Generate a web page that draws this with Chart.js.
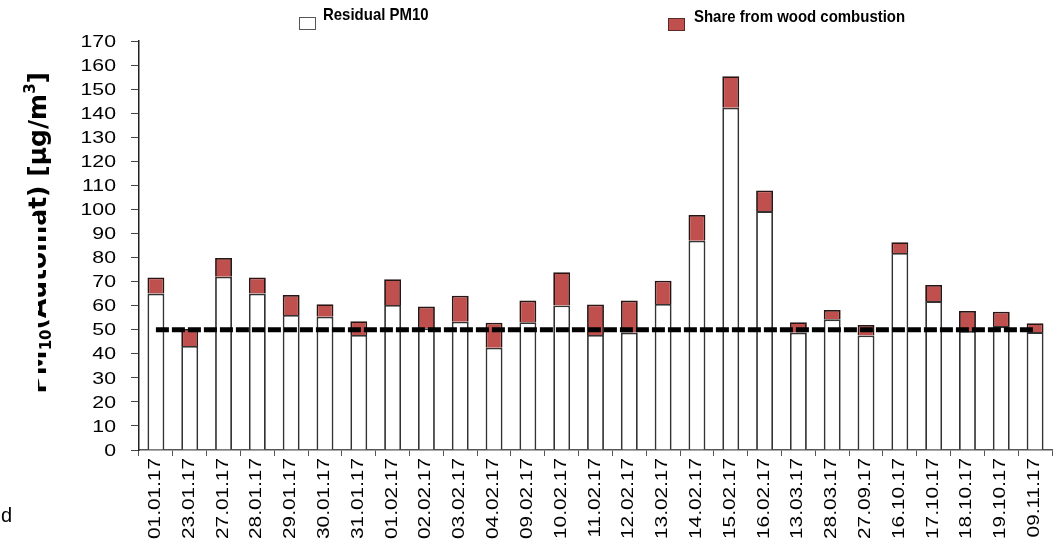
<!DOCTYPE html>
<html>
<head>
<meta charset="utf-8">
<script src="https://cdn.jsdelivr.net/npm/chart.js@4"></script>
<style>
  html, body { margin: 0; padding: 0; background: #fff; }
</style>
</head>
<body>
<canvas id="pmChart" width="1056" height="546"></canvas>
<script>
const dates = ["01.01.17", "23.01.17", "27.01.17", "28.01.17", "29.01.17", "30.01.17", "31.01.17",
    "01.02.17", "02.02.17", "03.02.17", "04.02.17", "09.02.17", "10.02.17", "11.02.17", "12.02.17",
    "13.02.17", "14.02.17", "15.02.17", "16.02.17", "13.03.17", "28.03.17", "27.09.17", "16.10.17",
    "17.10.17", "18.10.17", "19.10.17", "09.11.17"];

const residualPM10 = [65, 43.2, 72, 65, 56.1, 55.4, 47.8, 60.3, 50.6, 53.3, 42.5, 53.1, 60.1, 47.8, 48.8,
    60.7, 87, 142.3, 99.3, 48.8, 54.3, 47.6, 81.9, 61.9, 49.5, 51.5, 49];

const woodShare = [6.7, 7.1, 7.8, 6.7, 8.3, 5.2, 5.7, 10.7, 9, 10.8, 10.4, 9, 13.8, 12.7, 13.3,
    9.7, 10.7, 13.1, 8.6, 4.3, 3.9, 4.4, 4.5, 6.7, 8.3, 6, 3.7];

const limitValue = [50, 50, 50, 50, 50, 50, 50, 50, 50, 50, 50, 50, 50, 50, 50,
    50, 50, 50, 50, 50, 50, 50, 50, 50, 50, 50, 50];

const yMax = 170;
const yStep = 10;

const legendItems = ["Residual PM10", "Share from wood combustion"];
const yTitle = ["PM", "10", "(Automat) [µg/m", "3", "]"];

const sansFont = '"Liberation Sans", Arial, sans-serif';

// all the text is drawn here, the chart's own labels are hidden
const textPlugin = {
    id: "textPlugin",
    afterDraw(chart) {
        const { ctx, scales: { x, y } } = chart;
        ctx.save();
        ctx.fillStyle = "#000";

        // y tick labels
        ctx.font = `17px ${sansFont}`;
        ctx.textAlign = "right";
        ctx.textBaseline = "middle";
        y.ticks.forEach((t) => {
            ctx.save();
            ctx.translate(116, y.getPixelForValue(t.value) + 1);
            ctx.scale(1.25, 1);
            ctx.fillText(String(t.value), 0, 0);
            ctx.restore();
        });

        // x labels, rotated and stretched
        ctx.font = `16px ${sansFont}`;
        ctx.textBaseline = "alphabetic";
        dates.forEach((d, i) => {
            ctx.save();
            ctx.translate(x.getPixelForValue(i) + 4, 458);
            ctx.rotate(-Math.PI / 2);
            ctx.scale(1.3, 1);
            ctx.fillText(d, 0, 0);
            ctx.restore();
        });

        // y axis title (partly hidden like in the original)
        ctx.save();
        ctx.beginPath();
        ctx.rect(0, 0, 1056, 216);
        ctx.rect(38, 216, 1018, 330);
        ctx.clip();
        const widths = yTitle.map((part, i) => {
            const small = i === 1 || i === 3;
            ctx.font = `bold ${small ? 15 : 25}px "DejaVu Sans", sans-serif`;
            return ctx.measureText(part).width;
        });
        const total = widths.reduce((a, b) => a + b, 0);
        ctx.translate(46, 72 + total);
        ctx.rotate(-Math.PI / 2);
        ctx.textAlign = "left";
        let pos = 0;
        yTitle.forEach((part, i) => {
            const small = i === 1 || i === 3;
            ctx.font = `bold ${small ? 15 : 25}px "DejaVu Sans", sans-serif`;
            const shift = i === 1 ? 5 : (i === 3 ? -11 : 0);
            ctx.fillText(part, pos, shift);
            pos += widths[i];
        });
        ctx.restore();

        // legend
        ctx.lineWidth = 1;
        ctx.fillStyle = "#fff";
        ctx.strokeStyle = "#555";
        ctx.fillRect(299.5, 17.5, 16, 12);
        ctx.strokeRect(299.5, 17.5, 16, 12);
        ctx.fillStyle = "#c0504d";
        ctx.strokeStyle = "#5a2a2a";
        ctx.fillRect(668.5, 18.5, 16, 12);
        ctx.strokeRect(668.5, 18.5, 16, 12);

        ctx.fillStyle = "#000";
        ctx.font = `bold 17px ${sansFont}`;
        ctx.textAlign = "left";
        [[323, 19.5], [694, 22]].forEach(([lx, ly], i) => {
            ctx.save();
            ctx.translate(lx, ly);
            ctx.scale(0.88, 1);
            ctx.fillText(legendItems[i], 0, 0);
            ctx.restore();
        });

        // leftover text at the bottom left edge
        ctx.font = `20px ${sansFont}`;
        ctx.textAlign = "right";
        ctx.fillText("nd", 12, 522);

        ctx.restore();
    }
};

new Chart("pmChart", {
    type: "bar",
    data: {
        labels: dates,
        datasets: [
            {
                type: "line",
                label: "limit",
                data: limitValue,
                borderColor: "#000",
                borderWidth: 5,
                borderDash: [13, 3],
                pointRadius: 0,
                fill: false,
                stack: "limit",
                order: 0
            },
            {
                label: legendItems[0],
                data: residualPM10,
                backgroundColor: "#fff",
                borderColor: "#333",
                borderWidth: 1.8,
                stack: "pm",
                order: 1
            },
            {
                label: legendItems[1],
                data: woodShare,
                backgroundColor: "#c0504d",
                borderColor: "#2a1515",
                borderWidth: 1.8,
                stack: "pm",
                order: 1
            }
        ]
    },
    options: {
        responsive: false,
        animation: false,
        devicePixelRatio: 1,
        layout: { padding: { top: 41, right: 4, left: 0, bottom: 0 } },
        datasets: { bar: { categoryPercentage: 1, barPercentage: 0.5 } },
        plugins: {
            legend: { display: false },
            tooltip: { enabled: false }
        },
        scales: {
            x: {
                stacked: true,
                offset: true,
                grid: { offset: true, drawOnChartArea: false, tickLength: 6, color: "#555" },
                border: { color: "#555", width: 1.5 },
                ticks: { display: false },
                afterFit: (s) => { s.height = 96; }
            },
            y: {
                stacked: true,
                min: 0,
                max: yMax,
                ticks: { stepSize: yStep, display: false },
                grid: { drawOnChartArea: false, tickLength: 8, color: "#444" },
                border: { color: "#222", width: 1.5 },
                afterFit: (s) => { s.width = 139; }
            }
        }
    },
    plugins: [textPlugin]
});
</script>
</body>
</html>
